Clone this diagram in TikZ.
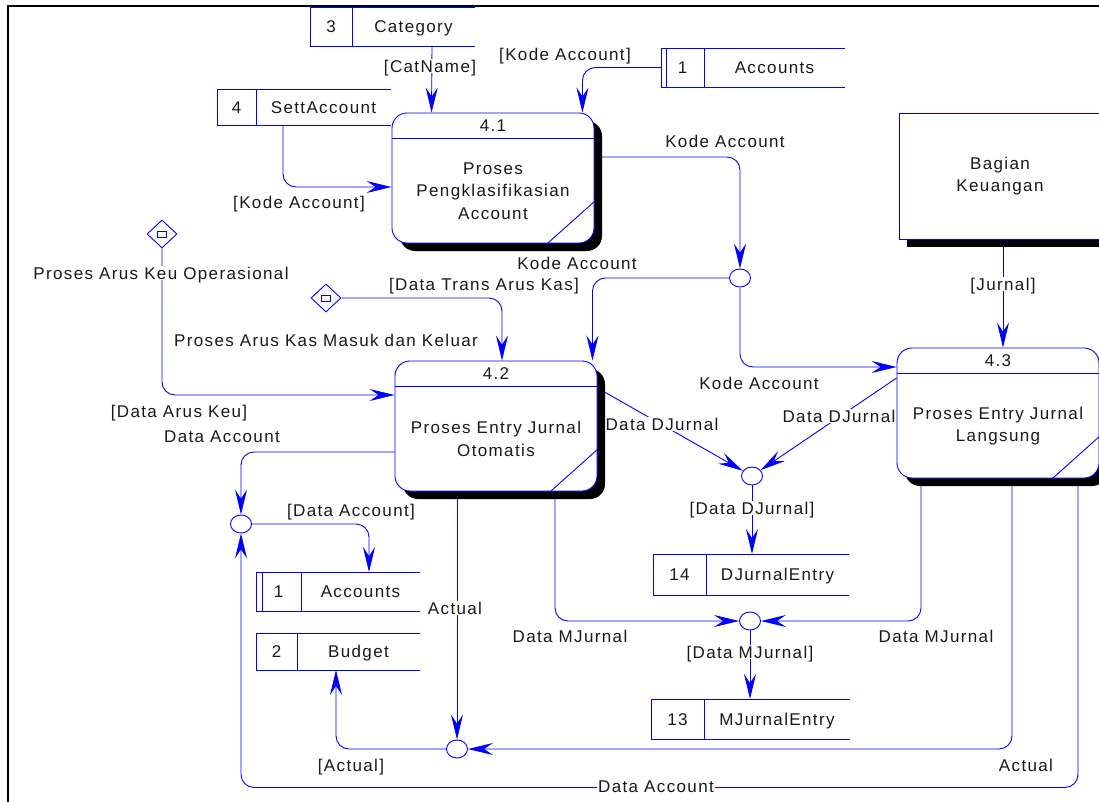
\documentclass[tikz,border=0pt]{standalone}
\usepackage{fontspec}
\usetikzlibrary{arrows.meta, shapes.geometric, shadows, calc}

\newfontfamily\dfdfont[LetterSpace=8]{Liberation Sans}
\definecolor{flowblue}{RGB}{0,0,255}
\definecolor{ink}{RGB}{25,25,25}

\pgfdeclarelayer{bg}
\pgfsetlayers{bg,main}

\tikzset{
    proc/.style={rectangle, rounded corners=15pt, draw=flowblue, line width=0.9pt, fill=white,
        minimum width=202pt, minimum height=130pt, inner sep=0pt,
        drop shadow={shadow xshift=8pt, shadow yshift=-8pt, fill=black, opacity=1}},
    extent/.style={rectangle, draw=flowblue, line width=0.9pt, fill=white, align=center,
        minimum width=202pt, minimum height=126pt, inner sep=0pt,
        drop shadow={shadow xshift=8pt, shadow yshift=-8pt, fill=black, opacity=1}},
    store/.style={rectangle, inner sep=0pt, outer sep=0pt},
    junct/.style={ellipse, draw=flowblue, line width=0.9pt, fill=white,
        minimum width=21pt, minimum height=18pt, inner sep=0pt},
    gate/.style={diamond, draw=flowblue, line width=0.9pt, fill=white,
        minimum width=30pt, minimum height=28pt, inner sep=0pt,
        path picture={\draw[flowblue, line width=0.8pt]
            ([shift={(-4.5pt,-3pt)}]path picture bounding box.center) rectangle ++(9pt,6pt);}},
    thinblue/.style={draw=flowblue, line width=0.9pt},
    flow/.style={draw=flowblue, line width=0.9pt, rounded corners=13pt,
        -{Stealth[length=25pt, width=12pt, inset=9pt]}},
    lbl/.style={fill=white, inner sep=1pt, text height=12pt, text depth=0pt},
    plain/.style={inner sep=0pt, text height=12pt, text depth=0pt}
}

\begin{document}
\begin{tikzpicture}[x=1pt, y=-1pt, font={\dfdfont\fontsize{17}{22.5}\selectfont}, text=ink]
    \useasboundingbox (0,0) rectangle (1099,801);

    % frame
    \draw[black, line width=1.5pt] (8,820) -- (8,6) -- (1120,6);

    % draw flow labels
    \foreach [count=\i] \x/\y/\t in {430/66/{[CatName]}, 565/54/{[Kode Account]},
        299/202/{[Kode Account]}, 725/141/{Kode Account}, 577/263/{Kode Account},
        484/284/{[Data Trans Arus Kas]}, 161/273/{Proses Arus Keu Operasional},
        326/340/{Proses Arus Kas Masuk dan Keluar}, 179/411/{[Data Arus Keu]},
        222/436/{Data Account}, 759/383/{Kode Account}, 662/424/{Data DJurnal},
        839/416/{Data DJurnal}, 1003/284/{[Jurnal]}, 752/508/{[Data DJurnal]},
        351/510/{[Data Account]}, 455/608/{Actual}, 570/636/{Data MJurnal},
        936/636/{Data MJurnal}, 750/652/{[Data MJurnal]}, 351/765/{[Actual]},
        1026/765/{Actual}, 656/786/{Data Account}}
        \node[lbl] (lab\i) at (\x,\y) {\t};

    % draw processes
    \foreach \nm/\x/\y/\pn/\txt in {p41/493/178/4.1/{Proses\\Pengklasifikasian\\Account},
        p42/496/426/4.2/{Proses Entry Jurnal\\Otomatis},
        p43/998/413/4.3/{Proses Entry Jurnal\\Langsung}} {
        \node[proc] (\nm) at (\x,\y) {};
        \draw[thinblue] ([yshift=-26pt]\nm.north west) -- ([yshift=-26pt]\nm.north east);
        \draw[thinblue] ([xshift=-47pt]\nm.south east) -- ([yshift=42pt]\nm.south east);
        \node[plain] (\nm-num) at ($(\nm.north)+(0,13)$) {\pn};
        \node[align=center] (\nm-txt) at ($(\nm.center)+(0,13)$) {\txt};
    }

    % external entity
    \node[extent] (bagian) at (1000,176) {Bagian\\Keuangan};

    % draw data stores
    \foreach \nm/\xl/\yt/\xr/\yb/\xd/\pn/\txt in {sCat/310/7/475/46/352/3/Category,
        sSett/217/89/391/125/256/4/SettAccount, sAccA/661/48/845/87/704/1/Accounts,
        sAccB/256/572/420/611/301/1/Accounts, sBud/256/633/420/670/297/2/Budget,
        sDJ/653/554/849/595/706/14/DJurnalEntry, sMJ/651/699/850/739/704/13/MJurnalEntry} {
        \node[store, minimum width={\xr-\xl}, minimum height={\yb-\yt}]
            (\nm) at ({(\xl+\xr)/2},{(\yt+\yb)/2}) {};
        \draw[thinblue] (\nm.north east) -- (\nm.north west) -- (\nm.south west) -- (\nm.south east);
        \draw[thinblue] (\xd,\yt) -- (\xd,\yb);
        \node[plain] (\nm-num) at ({(\xl+\xd)/2},{(\yt+\yb)/2}) {\pn};
        \node[plain] (\nm-txt) at ({(\xd+\xr)/2},{(\yt+\yb)/2}) {\txt};
    }
    \draw[thinblue] ($(sAccA.north west)+(5,0)$) -- ($(sAccA.south west)+(5,0)$);
    \draw[thinblue] ($(sAccB.north west)+(6,0)$) -- ($(sAccB.south west)+(6,0)$);

    % draw junctions and gates
    \foreach \nm/\x/\y in {j1/740/278, j2/752/476, j3/750/621, j4/241/524, j5/457/749}
        \node[junct] (\nm) at (\x,\y) {};
    \node[gate] (d1) at (162,234) {};
    \node[gate] (d2) at (326,298) {};

    % draw flows
    \begin{pgfonlayer}{bg}
        \draw[flow] ($(sCat.south west)+(122,0)$) -- ($(p41.north west)+(40,0)$);
        \draw[flow] (sAccA.west) -| ($(p41.north east)+(-12,0)$);
        \draw[flow] ($(sSett.south)+(-21,0)$) |- ($(p41.west)+(0,9)$);
        \draw[flow] ($(p41.east)+(0,-21)$) -| (j1.north);
        \draw[flow] (j1) -| ($(p42.north east)+(-5,0)$);
        \draw[flow] (j1) |- ($(p43.west)+(0,-46)$);
        \draw[flow] (d2) -| ($(p42.north)+(6,0)$);
        \draw[flow] (d1) |- ($(p42.west)+(0,-31)$);
        \draw[flow] ($(p42.east)+(0,-38)$) -- (j2);
        \draw[flow] ($(p43.west)+(0,-35)$) -- (j2);
        \draw[flow] (j2) -- (j2 |- sDJ.north);
        \draw[flow] ($(p42.south)+(59,0)$) |- (j3.west);
        \draw[flow] ($(p43.south)+(-77,0)$) |- (j3.east);
        \draw[flow] (j3) -- (j3 |- sMJ.north);
        \draw[flow] (j5 |- p42.south) -- (j5.north);
        \draw[flow] ($(p43.south)+(14,0)$) |- (j5.east);
        \draw[flow] ($(p43.south)+(80,0)$) -- ++(0,309) -| (j4.south);
        \draw[flow] ($(p42.west)+(0,26)$) -| (j4.north);
        \draw[flow] (j4) -| ($(sAccB.north west)+(113,0)$);
        \draw[flow] (j5) -| ($(sBud.south west)+(80,0)$);
        \draw[flow] ($(bagian.south)+(3,0)$) -- ($(p43.north)+(5,0)$);
    \end{pgfonlayer}

\end{tikzpicture}
\end{document}
